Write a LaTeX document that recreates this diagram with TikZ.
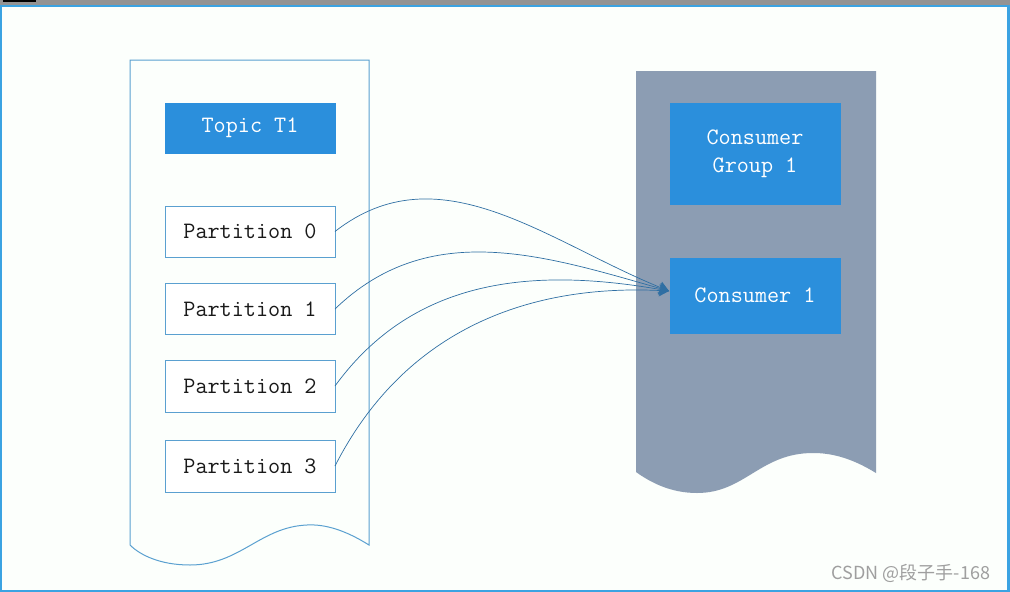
\documentclass[tikz,border=0pt]{standalone}
\usepackage{fontspec}
\newfontfamily\cjkfont{Noto Sans CJK SC}
\usetikzlibrary{arrows.meta}
\definecolor{boxblue}{HTML}{2B8FDC}
\definecolor{lineblue}{HTML}{5AA0D0}
\definecolor{arrowblue}{HTML}{2F6FA3}
\definecolor{sheetgray}{HTML}{8C9DB3}
\definecolor{framecol}{HTML}{3BA3E2}
\tikzset{
	filled/.style={fill=boxblue, text=white},
	outlined/.style={draw=lineblue, fill=white, text=black!90, line width=1pt},
	link/.style={draw=arrowblue, line width=0.7pt, -{Stealth[length=10pt, width=12pt]}},
}
\newcommand{\boxLabelled}[7][]{
	\path (#2,#3) node[#1, minimum width=#4pt, minimum height=#5pt, inner sep=0pt, outer sep=0pt, align=center, font=\ttfamily\fontsize{23.5}{28}\selectfont](#6){#7};
}
\newcommand{\edgeCurved}[5][]{
	\draw[#1] (#2) to[out=#4, in=#5] (#3);
}

\begin{document}
\begin{tikzpicture}[x=1pt, y=-1pt]
	\useasboundingbox (0,0) rectangle (1010,592);
	% screen frame
	\fill[white!99!green] (0,0) rectangle (1010,592);
	\fill[gray!85] (0,0) rectangle (1010,5);
	\fill[black] (3,0) rectangle (36,2);
	\draw[framecol, line width=2.5pt] (1.2,6) rectangle (1008.6,590.8);

	% topic sheet
	\draw[lineblue, line width=1pt] (130,545) -- (130,60) -- (369,60) -- (369,545)
		.. controls (345,530) and (325,524) .. (307,525)
		.. controls (260,527) and (240,565) .. (190,565)
		.. controls (160,565) and (140,555) .. (130,545);

	% consumer group sheet
	\fill[sheetgray] (636,472) -- (636,71) -- (876,71) -- (876,473)
		.. controls (850,457) and (830,453) .. (813,453)
		.. controls (760,453) and (745,493) .. (697,493)
		.. controls (670,493) and (650,482) .. (636,472);

	\boxLabelled[filled]{250}{128}{171}{51}{topic}{Topic T1};
	\boxLabelled[outlined]{250}{231.5}{170}{51}{p0}{Partition 0};
	\boxLabelled[outlined]{250}{309}{170}{51}{p1}{Partition 1};
	\boxLabelled[outlined]{250}{386}{170}{52}{p2}{Partition 2};
	\boxLabelled[outlined]{250}{466}{170}{52}{p3}{Partition 3};

	\boxLabelled[filled]{755}{154}{171}{102}{group}{Consumer\\Group 1};
	\boxLabelled[filled]{755}{295.5}{171}{76}{c1}{Consumer 1};

	\coordinate (cin) at (669,291);

	\edgeCurved[link]{p0.east}{cin}{38}{158};
	\edgeCurved[link]{p1.east}{cin}{44}{164};
	\edgeCurved[link]{p2.east}{cin}{54}{170};
	\edgeCurved[link]{p3.east}{cin}{63}{177};

	\path (911,573) node[text=gray!75, font=\cjkfont\fontsize{18}{20}\selectfont](mark){CSDN @段子手-168};
\end{tikzpicture}
\end{document}
